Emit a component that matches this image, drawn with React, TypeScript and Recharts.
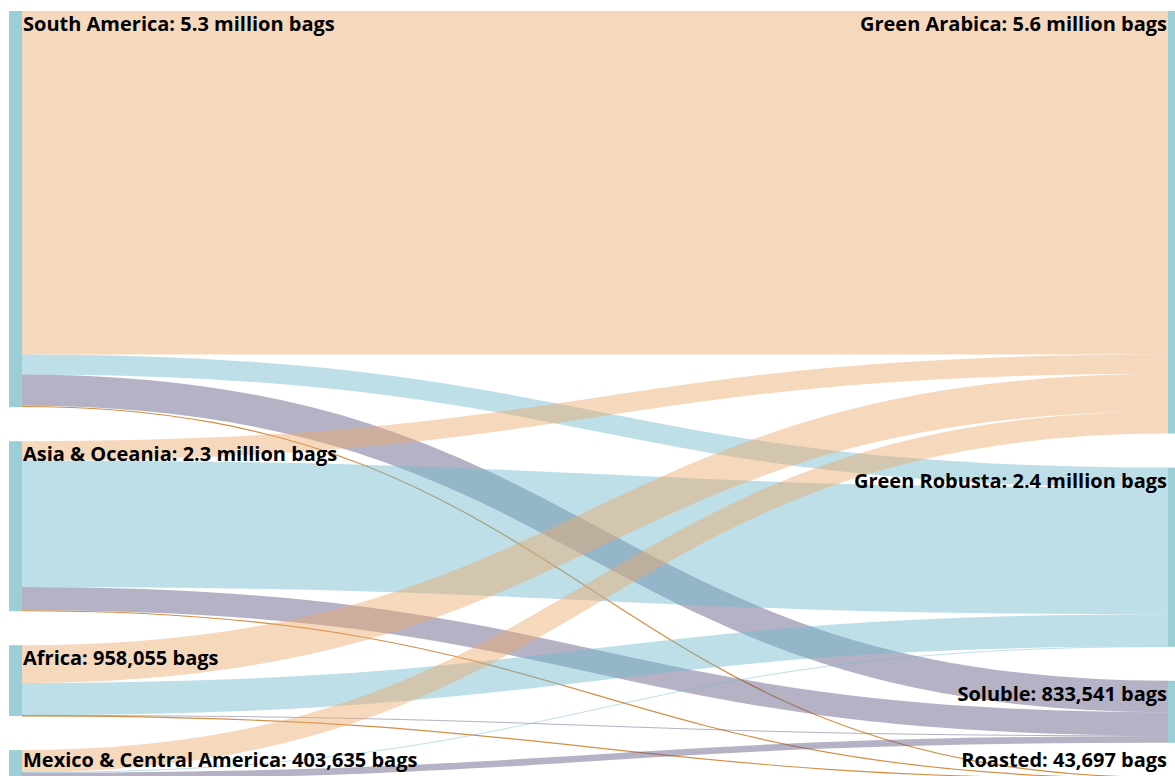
import { Sankey } from "recharts"

const sources = ["South America", "Asia & Oceania", "Africa", "Mexico & Central America"]
const sourceTotals = ["5.3 million", "2.3 million", "958,055", "403,635"]
const targets = ["Green Arabica", "Green Robusta", "Soluble", "Roasted"]
const targetTotals = ["5.6 million", "2.4 million", "833,541", "43,697"]

// million bags shipped, one row per origin, columns in the order of `targets`
const southAmerica = [4.64, 0.27, 0.425, 0.018]
const asiaOceania = [0.26, 1.71, 0.315, 0.012]
const africa = [0.51, 0.435, 0.008, 0.005]
const mexicoCentral = [0.3, 0.006, 0.09, 0.008]
const flows = [southAmerica, asiaOceania, africa, mexicoCentral]

const linkColors = ["#eba96b", "#6fb8cc", "#5a5580", "#d1893a"]
const nodeColor = "#9ccfd5"

const nodes = [
  ...sources.map((s, i) => ({ name: `${s}: ${sourceTotals[i]} bags` })),
  ...targets.map((t, i) => ({ name: `${t}: ${targetTotals[i]} bags` })),
]

const links = flows.flatMap((row, s) =>
  row.map((value, t) => ({ source: s, target: sources.length + t, value }))
)

function FlowLink(props: any) {
  const { sourceX, targetX, sourceY, targetY, sourceControlX, targetControlX, linkWidth, index } = props
  const t = links[index].target - sources.length
  const roasted = t === 3
  return (
    <path
      d={`M${sourceX},${sourceY}C${sourceControlX},${sourceY} ${targetControlX},${targetY} ${targetX},${targetY}`}
      fill="none"
      stroke={linkColors[t]}
      strokeWidth={roasted ? 1.2 : Math.max(linkWidth, 1)}
      strokeOpacity={roasted ? 0.95 : 0.45}
    />
  )
}

function FlowNode(props: any) {
  const { x, y, width, height, payload } = props
  const left = x < 500
  const baseline = Math.min(y + 20, 767)
  return (
    <g>
      <rect x={x} y={y} width={width} height={Math.max(height, 1)} fill={nodeColor} />
      <text
        x={left ? x + width + 1 : x - 1}
        y={baseline}
        textAnchor={left ? "start" : "end"}
        fontFamily="Open Sans"
        fontWeight={700}
        fontSize={20}
        fill="#000"
      >
        {payload.name}
      </text>
    </g>
  )
}

export default function App() {
  return (
    <div style={{ width: 1175, height: 776, overflow: "hidden", background: "#fff" }}>
      <style>{"body{margin:0;overflow:hidden}"}</style>
      <Sankey
        width={1181}
        height={780}
        data={{ nodes, links }}
        nodePadding={34}
        nodeWidth={13}
        iterations={0}
        margin={{ top: 11, right: 0, bottom: 0, left: 9 }}
        node={FlowNode}
        link={FlowLink}
      />
    </div>
  )
}
